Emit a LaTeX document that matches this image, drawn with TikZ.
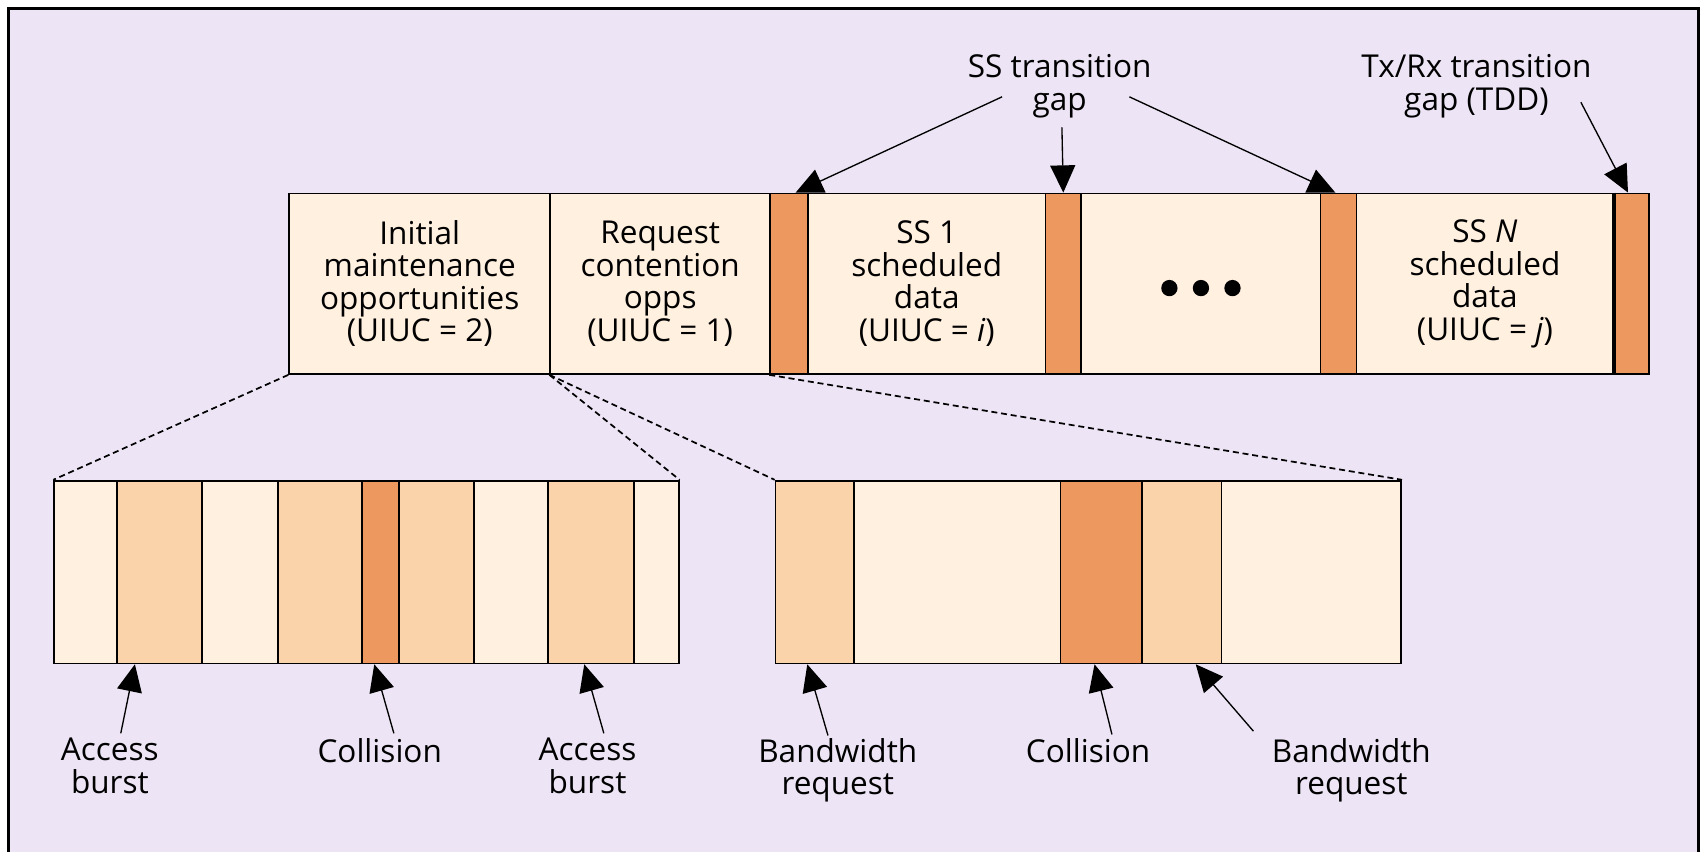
\documentclass[tikz,border=0pt]{standalone}
\usepackage{fontspec}
\setmainfont{Open Sans}
\usepackage{tikz}
\usetikzlibrary{arrows.meta,calc}
\definecolor{framebg}{RGB}{237,228,245}
\definecolor{pale}{RGB}{255,240,224}
\definecolor{peach}{RGB}{251,211,170}
\definecolor{rust}{RGB}{237,152,94}

\begin{document}
\begin{tikzpicture}[x=0.02cm, y=-0.02cm,
	txt/.style={font=\fontsize{16.5}{17}\selectfont, align=center, inner sep=0pt},
	seg/.style={draw, line width=0.9pt, anchor=north west, inner sep=0pt, minimum width=#1*0.02cm},
	toprow/.style={seg=#1, minimum height=3.32cm, txt},
	botrow/.style={seg=#1, minimum height=3.36cm},
	cut/.style={line width=0.9pt, dash pattern=on 0.11cm off 0.07cm},
	arr/.style={line width=0.7pt, -{Triangle[length=0.5cm,width=0.46cm]}}]
	\useasboundingbox (0,0) rectangle (1568,783);
	\fill[framebg] (8,8) rectangle (1561,783);
	\draw[line width=1.6pt] (8,783) -- (8,8) -- (1561,8) -- (1561,783);
	\node[toprow=240, fill=pale] (im) at (265,177) {Initial\\maintenance\\opportunities\\(UIUC = 2)};
	\node[toprow=202, fill=pale] (rc) at (505,177) {Request\\contention\\opps\\(UIUC = 1)};
	\node[toprow=35, fill=rust] (g1) at (707,177) {};
	\node[toprow=218, fill=pale] (ss1) at (742,177) {SS 1\\scheduled\\data\\(UIUC = \textit{i})};
	\node[toprow=33, fill=rust] (g2) at (960,177) {};
	\node[toprow=220, fill=pale] (more) at (993,177) {};
	\node[toprow=33, fill=rust] (g3) at (1213,177) {};
	\node[toprow=236, fill=pale] (ssn) at (1246,177) {SS \textit{N}\\scheduled\\data\\(UIUC = \textit{j})};
	\node[toprow=33, fill=rust] (g4) at (1482,177) {};
	\draw[line width=2.2pt] (ssn.north east) -- (ssn.south east);
	\fill ($(more.center)+(-29,4)$) circle[radius=0.15cm];
	\fill ($(more.center)+(0,4)$) circle[radius=0.15cm];
	\fill ($(more.center)+(29,4)$) circle[radius=0.15cm];
	\node[botrow=58, fill=pale] (a1) at (49,441) {};
	\node[botrow=78, fill=peach] (a2) at (107,441) {};
	\node[botrow=70, fill=pale] (a3) at (185,441) {};
	\node[botrow=77, fill=peach] (a4) at (255,441) {};
	\node[botrow=34, fill=rust] (a5) at (332,441) {};
	\node[botrow=69, fill=peach] (a6) at (366,441) {};
	\node[botrow=68, fill=pale] (a7) at (435,441) {};
	\node[botrow=79, fill=peach] (a8) at (503,441) {};
	\node[botrow=41, fill=pale] (a9) at (582,441) {};
	\node[botrow=72, fill=peach] (b1) at (712,441) {};
	\node[botrow=190, fill=pale] (b2) at (784,441) {};
	\node[botrow=75, fill=rust] (b3) at (974,441) {};
	\node[botrow=73, fill=peach] (b4) at (1049,441) {};
	\node[botrow=165, fill=pale] (b5) at (1122,441) {};
	\draw[cut] (im.south west) -- (a1.north west);
	\draw[cut] (rc.south west) -- (a9.north east);
	\draw[cut] (rc.south west) -- (b1.north west);
	\draw[cut] (g1.south west) -- (b5.north east);
	\node[txt, anchor=north] (ssgap) at (974,50) {SS transition\\gap};
	\node[txt, anchor=north] (tdd) at (1357,50) {Tx/Rx transition\\gap (TDD)};
	\node[txt, anchor=north] (acc1) at (101,678) {Access\\burst};
	\node[txt, anchor=north] (coll1) at (349,678) {Collision};
	\node[txt, anchor=north] (acc2) at (540,678) {Access\\burst};
	\node[txt, anchor=north] (bw1) at (770,678) {Bandwidth\\request};
	\node[txt, anchor=north] (coll2) at (1000,678) {Collision};
	\node[txt, anchor=north] (bw2) at (1242,678) {Bandwidth\\request};
	\draw[arr] ($(ssgap.north)+(-53,39)$) -- ($(g1.north)+(6,0)$);
	\draw[arr] ($(ssgap.north)+(2,67)$) -- (g2.north);
	\draw[arr] ($(ssgap.north)+(64,39)$) -- ($(g3.north)+(-3,0)$);
	\draw[arr] ($(tdd.north)+(96,44)$) -- ($(g4.north)+(-3,0)$);
	\draw[arr] ($(acc1.north)+(10,-4)$) -- ($(a2.south west)+(17,0)$);
	\draw[arr] ($(coll1.north)+(13,-4)$) -- ($(a5.south west)+(12,0)$);
	\draw[arr] ($(acc2.north)+(15,-4)$) -- ($(a8.south west)+(34,0)$);
	\draw[arr] ($(bw1.north)+(-9,-2)$) -- ($(b1.south west)+(30,0)$);
	\draw[arr] ($(coll2.north)+(22,-3)$) -- ($(b3.south west)+(32,0)$);
	\draw[arr] ($(bw2.north)+(-90,-6)$) -- ($(b4.south west)+(50,0)$);
\end{tikzpicture}
\end{document}
